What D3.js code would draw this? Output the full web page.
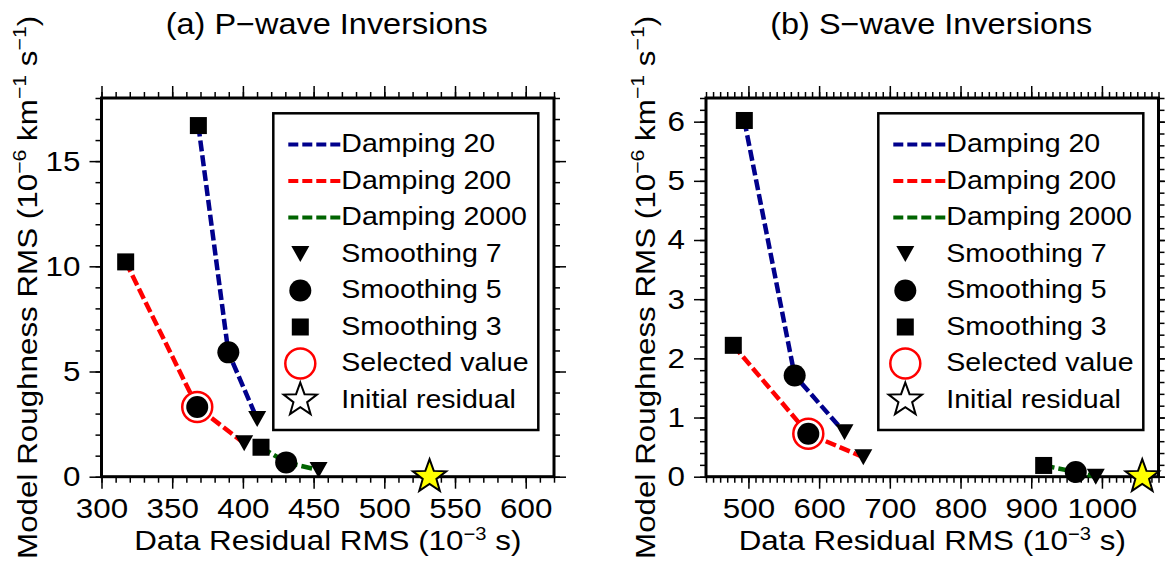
<!DOCTYPE html>
<html>
<head>
<meta charset="utf-8">
<script src="https://cdn.jsdelivr.net/npm/d3@7"></script>
<style>
  html, body { margin: 0; padding: 0; background: #fff; }
  svg { display: block; }
</style>
</head>
<body>
<svg id="chart" width="1165" height="567"></svg>
<script>
// ---------------- DATA ----------------
const dampingLabels = ["Damping 20", "Damping 200", "Damping 2000"];
const smoothingLabels = ["Smoothing 3", "Smoothing 5", "Smoothing 7"]; // square, circle, triangle
const dampingColors = ["#00008c", "#ff0000", "#006400"];

// Panel (a) P-wave: residual (1e-3 s) and roughness (1e-6 /km/s), order Smoothing 3,5,7
const pResidual20   = [368.5, 389.7, 410.1];
const pRoughness20  = [16.69, 5.91, 2.74];
const pResidual200  = [317.1, 367.7, 400.9];
const pRoughness200 = [10.21, 3.31, 1.59];
const pResidual2000 = [412.8, 430.6, 453.5];
const pRoughness2000= [1.40, 0.68, 0.32];
const pInitial = [532, 0];
const pSelected = [367.7, 3.31];

// Panel (b) S-wave
const sResidual20   = [494.2, 565.4, 635.9];
const sRoughness20  = [6.02, 1.71, 0.75];
const sResidual200  = [478.6, 584.7, 662.5];
const sRoughness200 = [2.22, 0.725, 0.33];
const sResidual2000 = [917.6, 963.0, 991.3];
const sRoughness2000= [0.19, 0.08, 0.0];
const sInitial = [1057, 0];
const sSelected = [584.7, 0.725];

// Ticks
const pXMajor = [300, 350, 400, 450, 500, 550, 600];
const pYMajor = [0, 5, 10, 15];
const sXMajor = [500, 600, 700, 800, 900, 1000];
const sYMajor = [0, 1, 2, 3, 4, 5, 6];

const titles = ["(a) P\u2212wave Inversions", "(b) S\u2212wave Inversions"];
const legendItems = ["Damping 20", "Damping 200", "Damping 2000", "Smoothing 7", "Smoothing 5", "Smoothing 3", "Selected value", "Initial residual"];

// ---------------- DRAWING ----------------
const FONT = "'Liberation Sans', Arial, Helvetica, sans-serif";
const SX = 1.12;
const svg = d3.select("#chart");

function range(a, b, step) { const out = []; for (let v = a; v <= b + 1e-9; v += step) out.push(+v.toFixed(6)); return out; }

function starPath(R, r) {
  let p = "";
  for (let i = 0; i < 10; i++) {
    const rad = i % 2 === 0 ? R : r;
    const ang = -Math.PI / 2 + i * Math.PI / 5;
    p += (i === 0 ? "M" : "L") + (rad * Math.cos(ang)).toFixed(2) + "," + (rad * Math.sin(ang)).toFixed(2);
  }
  return p + "Z";
}
const triPath = "M-9,-8L9,-8L0,8Z";

function drawMarker(g, kind, x, y) {
  if (kind === 0) {
    g.append("rect").attr("x", x - 8.5).attr("y", y - 8.5).attr("width", 17).attr("height", 17).attr("fill", "#000");
  } else if (kind === 1) {
    g.append("circle").attr("cx", x).attr("cy", y).attr("r", 11).attr("fill", "#000");
  } else {
    g.append("path").attr("d", triPath).attr("transform", `translate(${x},${y})`).attr("fill", "#000");
  }
}

function supText(sel, parts, supSize, shift) {
  parts.forEach(([t, sup], i) => {
    const prevSup = i > 0 && parts[i - 1][1];
    const ts = sel.append("tspan").text(t);
    if (sup) ts.attr("font-size", supSize).attr("dy", -shift);
    else if (prevSup) ts.attr("dy", shift);
  });
}

function drawPanel(cfg) {
  const { x0, x1, y0, y1 } = cfg;
  const x = d3.scaleLinear().domain(cfg.xDomain).range([x0, x1]);
  const y = d3.scaleLinear().domain(cfg.yDomain).range([y1, y0]);
  const g = svg.append("g");

  function styleAxis(ag) {
    ag.attr("font-family", FONT).attr("font-size", 28);
    ag.select(".domain").remove();
    ag.selectAll("line").attr("stroke", "#000").attr("stroke-width", 1.5);
    ag.selectAll("text").attr("fill", "#000");
  }
  const xMinor = range(cfg.xDomain[0], cfg.xDomain[1], cfg.xMinorStep);
  const yMinor = range(cfg.yDomain[0], cfg.yDomain[1], cfg.yMinorStep);
  // bottom
  const gb = g.append("g").attr("transform", `translate(0,${y1})`);
  gb.append("g").call(d3.axisBottom(x).tickValues(xMinor).tickSize(6).tickFormat("")).call(styleAxis);
  const gbM = gb.append("g").call(d3.axisBottom(x).tickValues(cfg.xMajor).tickSize(12).tickPadding(9).tickFormat(d3.format("d")));
  styleAxis(gbM);
  gbM.selectAll("text").attr("transform", `scale(${SX},1)`);
  // top
  const gt = g.append("g").attr("transform", `translate(0,${y0})`);
  gt.append("g").call(d3.axisTop(x).tickValues(xMinor).tickSize(6).tickFormat("")).call(styleAxis);
  gt.append("g").call(d3.axisTop(x).tickValues(cfg.xMajor).tickSize(12).tickFormat("")).call(styleAxis);
  // left
  const gl = g.append("g").attr("transform", `translate(${x0},0)`);
  gl.append("g").call(d3.axisLeft(y).tickValues(yMinor).tickSize(6).tickFormat("")).call(styleAxis);
  const glM = gl.append("g").call(d3.axisLeft(y).tickValues(cfg.yMajor).tickSize(12).tickPadding(9).tickFormat(d3.format("d")));
  styleAxis(glM);
  glM.selectAll("text").attr("x", -21 / SX).attr("transform", `scale(${SX},1)`);
  // right
  const gr = g.append("g").attr("transform", `translate(${x1},0)`);
  gr.append("g").call(d3.axisRight(y).tickValues(yMinor).tickSize(6).tickFormat("")).call(styleAxis);
  gr.append("g").call(d3.axisRight(y).tickValues(cfg.yMajor).tickSize(12).tickFormat("")).call(styleAxis);

  // frame
  g.append("rect").attr("x", x0).attr("y", y0).attr("width", x1 - x0).attr("height", y1 - y0)
    .attr("fill", "none").attr("stroke", "#000").attr("stroke-width", 3);

  // title
  g.append("text").attr("transform", `translate(${(x0 + x1) / 2 - 1},34) scale(${SX},1)`)
    .attr("text-anchor", "middle").attr("font-family", FONT).attr("font-size", 29).text(cfg.title);

  // x label
  const xl = g.append("text").attr("transform", `translate(${(x0 + x1) / 2},550) scale(${SX},1)`)
    .attr("text-anchor", "middle").attr("font-family", FONT).attr("font-size", 28);
  supText(xl, [["Data Residual RMS (10", false], ["\u22123", true], [" s)", false]], 18, 10);

  // y label
  const yl = g.append("text").attr("transform", `translate(${cfg.yLabelX},${(y0 + y1) / 2}) rotate(-90) scale(${SX},1)`)
    .attr("text-anchor", "middle").attr("font-family", FONT).attr("font-size", 28);
  supText(yl, [["Model Roughness RMS (10", false], ["\u22126", true], [" km", false], ["\u22121", true], [" s", false], ["\u22121", true], [")", false]], 19, 11);

  // lines
  const line = d3.line().x(d => x(d[0])).y(d => y(d[1]));
  cfg.series.forEach((s, i) => {
    const pts = s.res.map((r, k) => [r, s.rough[k]]);
    g.append("path").attr("d", line(pts)).attr("fill", "none")
      .attr("stroke", dampingColors[i]).attr("stroke-width", 4.5).attr("stroke-dasharray", "11,4");
  });
  // selected ring
  g.append("circle").attr("cx", x(cfg.selected[0])).attr("cy", y(cfg.selected[1])).attr("r", 15)
    .attr("fill", "#fff").attr("stroke", "#ff0000").attr("stroke-width", 2.5);
  // markers
  cfg.series.forEach(s => {
    s.res.forEach((r, k) => drawMarker(g, k, x(r), y(s.rough[k])));
  });
  // star
  g.append("path").attr("d", starPath(17.5, 7.2))
    .attr("transform", `translate(${x(cfg.initial[0])},${y(cfg.initial[1])})`)
    .attr("fill", "#ffff00").attr("stroke", "#000").attr("stroke-width", 2);

  // legend
  const lx = cfg.legendX, ly0 = 113.3, ly1 = 430;
  const lg = g.append("g");
  lg.append("rect").attr("x", lx).attr("y", ly0).attr("width", 265).attr("height", ly1 - ly0)
    .attr("fill", "#fff").attr("stroke", "#000").attr("stroke-width", 2.5);
  legendItems.forEach((label, i) => {
    const ry = 144.5 + i * 36.5;
    const sxp = lx + 27;
    if (i < 3) {
      lg.append("line").attr("x1", lx + 15).attr("x2", lx + 67).attr("y1", ry).attr("y2", ry)
        .attr("stroke", dampingColors[i]).attr("stroke-width", 4).attr("stroke-dasharray", "10,4");
    } else if (i === 3) {
      drawMarker(lg, 2, sxp, ry);
    } else if (i === 4) {
      drawMarker(lg, 1, sxp, ry);
    } else if (i === 5) {
      drawMarker(lg, 0, sxp, ry);
    } else if (i === 6) {
      lg.append("circle").attr("cx", sxp).attr("cy", ry).attr("r", 15)
        .attr("fill", "none").attr("stroke", "#ff0000").attr("stroke-width", 2.5);
    } else {
      lg.append("path").attr("d", starPath(17.5, 7.2)).attr("transform", `translate(${sxp},${ry})`)
        .attr("fill", "#fff").attr("stroke", "#000").attr("stroke-width", 2);
    }
    lg.append("text").attr("transform", `translate(${lx + 68},${ry + 7.5}) scale(${SX},1)`)
      .attr("font-family", FONT).attr("font-size", 25.5).text(label);
  });
}

drawPanel({
  x0: 101.5, x1: 554, y0: 98, y1: 476.7,
  xDomain: [300, 620], yDomain: [0, 18],
  xMajor: pXMajor, yMajor: pYMajor, xMinorStep: 10, yMinorStep: 1,
  title: titles[0], yLabelX: 36.5, legendX: 273.3,
  series: [
    { res: pResidual20, rough: pRoughness20 },
    { res: pResidual200, rough: pRoughness200 },
    { res: pResidual2000, rough: pRoughness2000 }
  ],
  selected: pSelected, initial: pInitial
});

drawPanel({
  x0: 706, x1: 1158.5, y0: 98, y1: 476.7,
  xDomain: [440, 1080], yDomain: [0, 6.4],
  xMajor: sXMajor, yMajor: sYMajor, xMinorStep: 10, yMinorStep: 0.2,
  title: titles[1], yLabelX: 655, legendX: 878.3,
  series: [
    { res: sResidual20, rough: sRoughness20 },
    { res: sResidual200, rough: sRoughness200 },
    { res: sResidual2000, rough: sRoughness2000 }
  ],
  selected: sSelected, initial: sInitial
});
</script>
</body>
</html>
